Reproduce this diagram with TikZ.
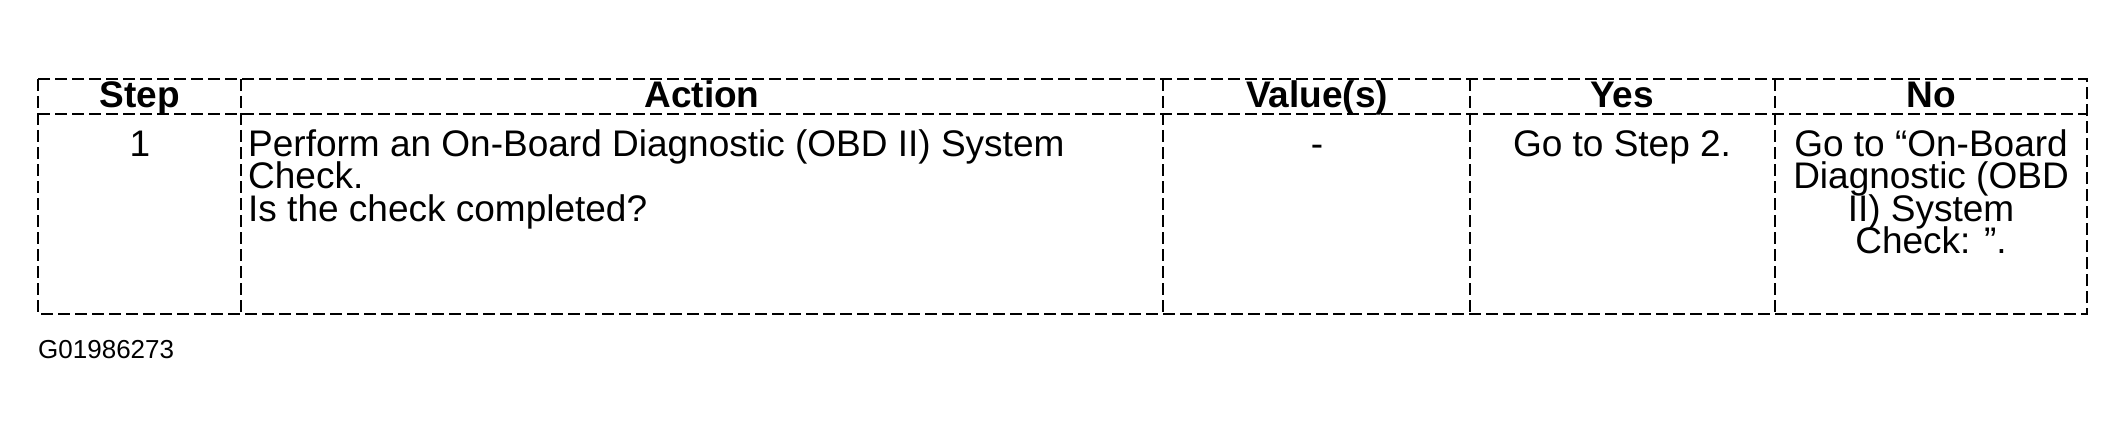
\documentclass[tikz,border=0pt]{standalone}
\usepackage{fontspec}
\setmainfont{Liberation Sans}
\begin{document}
\begin{tikzpicture}[x=1pt,y=-1pt]
  \tikzstyle{rule}=[line width=2.2pt, dash pattern=on 12pt off 5pt]
  \tikzstyle{head}=[font=\fontsize{37}{32}\selectfont\bfseries, anchor=base, inner sep=0pt]
  \tikzstyle{cell}=[font=\fontsize{37}{32.5}\selectfont, inner sep=0pt, anchor=base]
  \useasboundingbox (0,0) rectangle (2124,433);

  % frame and rules
  \draw[rule] (38,79) rectangle (2087,314);
  \draw[rule] (38,114) -- (2087,114);
  \foreach \x in {241,1163,1470,1775}
    \draw[rule] (\x,79) -- (\x,314);

  % header
  \node[head] (step)   at (140,108)  {Step};
  \node[head] (action) at (702,108)  {Action};
  \node[head] (value)  at (1317,108) {Value(s)};
  \node[head] (yes)    at (1622,108) {Yes};
  \node[head] (no)     at (1931,108) {No};

  % row 1
  \node[cell] (n1)   at (140,156)  {1};
  \node[cell, anchor=base west] (act1a) at (248,156) {Perform an On-Board Diagnostic (OBD II) System};
  \node[cell, anchor=base west] (act1b) at (248,188.5) {Check.};
  \node[cell, anchor=base west] (act1c) at (248,221) {Is the check completed?};
  \node[cell] (val1) at (1317,156) {-};
  \node[cell] (yes1) at (1622,156) {Go to Step 2.};
  \node[cell] (no1a) at (1931,156)   {Go to “On-Board};
  \node[cell] (no1b) at (1931,188.5) {Diagnostic (OBD};
  \node[cell] (no1c) at (1931,221)   {II) System};
  \node[cell] (no1d) at (1931,253.5) {Check: ”.};

  \node[font=\fontsize{26}{30}\selectfont, anchor=base west, inner sep=0pt] (fig) at (38,358) {G01986273};
\end{tikzpicture}
\end{document}
